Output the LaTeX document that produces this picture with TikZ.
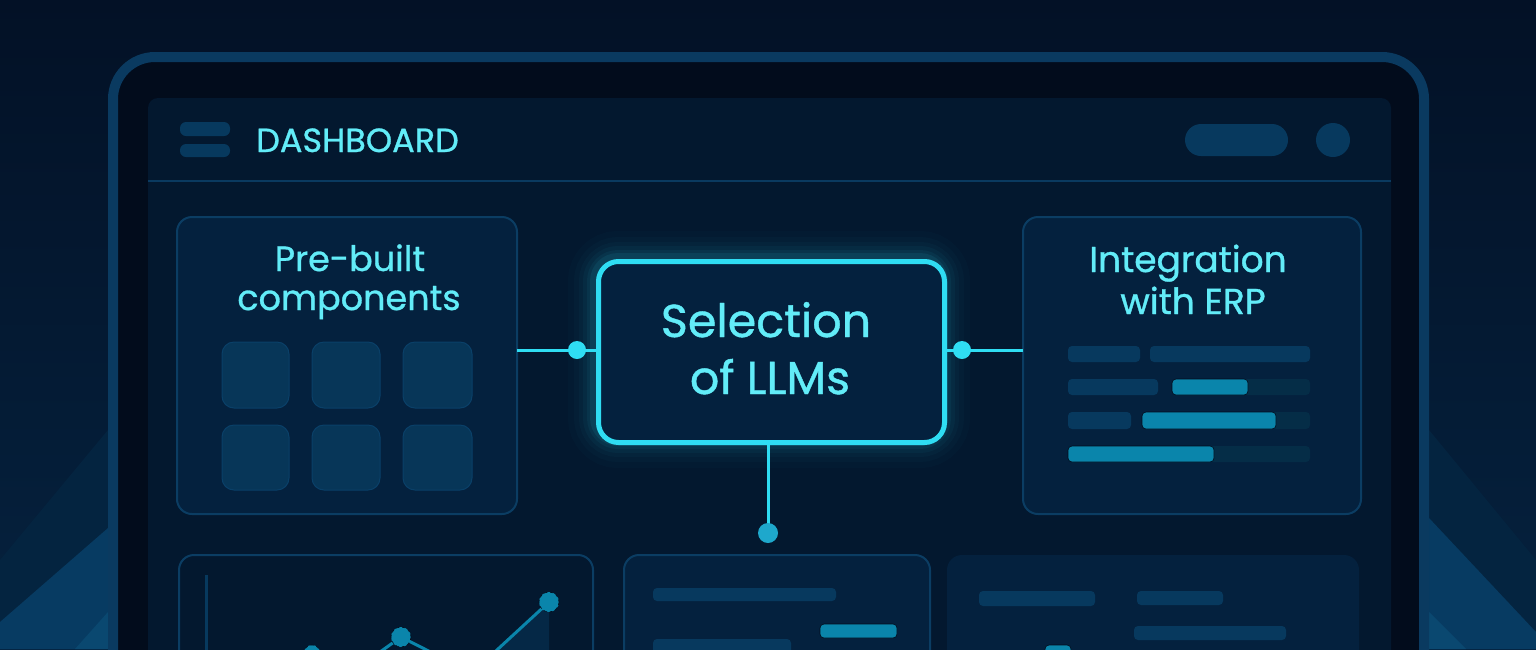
\documentclass[tikz,border=0pt]{standalone}
\usepackage{fontspec}
\setmainfont{Poppins}[FakeBold=0.9]
\usetikzlibrary{calc}
\definecolor{bgA}{HTML}{031126}
\definecolor{bgB}{HTML}{05223F}
\definecolor{frameC}{HTML}{0A3A60}
\definecolor{frameIn}{HTML}{020C1C}
\definecolor{panelC}{HTML}{03182F}
\definecolor{cardF}{HTML}{04213E}
\definecolor{cardB}{HTML}{0B3D63}
\definecolor{tileF}{HTML}{073658}
\definecolor{tileB}{HTML}{0A4068}
\definecolor{barD}{HTML}{07395E}
\definecolor{barB}{HTML}{0A85AB}
\definecolor{track}{HTML}{052D47}
\definecolor{cyanL}{HTML}{2FDDF3}
\definecolor{txtC}{HTML}{62ECF8}
\definecolor{dotB}{HTML}{1EA8CC}
\definecolor{beam1}{HTML}{042440}
\definecolor{beam2}{HTML}{073B62}
\definecolor{beam3}{HTML}{0A4870}
\tikzset{
  card/.style={draw=cardB, line width=2pt, fill=cardF, rounded corners=15pt},
  tile/.style={draw=tileB, line width=1pt, fill=tileF, rounded corners=12pt},
  bard/.style={fill=barD, rounded corners=4pt},
  barb/.style={fill=barB, draw=frameIn, line width=0.6pt, rounded corners=4pt},
  bart/.style={fill=track, rounded corners=4pt},
  title/.style={text=txtC, align=center, inner sep=0pt},
  conn/.style={draw=cyanL, line width=3pt},
  dot/.style={circle, fill=cyanL, inner sep=0pt, minimum size=18pt},
}
\begin{document}
\begin{tikzpicture}[x=1pt, y=-1pt]
\useasboundingbox (0,0) rectangle (1536,649);
\clip (0,0) rectangle (1536,649);
% background
\shade[top color=bgA, bottom color=bgB] (0,0) rectangle (1536,649);
% corner beams
\fill[beam1] (0,649) -- (0,560) -- (108,430) -- (108,649) -- cycle;
\fill[beam2] (0,649) -- (0,622) -- (108,528) -- (108,649) -- cycle;
\fill[beam3] (75,649) -- (108,612) -- (108,649) -- cycle;
\fill[beam1] (1536,649) -- (1536,560) -- (1429,430) -- (1429,649) -- cycle;
\fill[beam2] (1536,649) -- (1536,632) -- (1429,518) -- (1429,649) -- cycle;
\fill[beam3] (1466,649) -- (1429,612) -- (1429,649) -- cycle;
% laptop frame
\draw[frameC, line width=10pt, fill=frameIn, rounded corners=42pt] (113,700) -- (113,57) -- (1424,57) -- (1424,700);
% screen panel
\fill[panelC, rounded corners=10pt] (148,700) rectangle (1391,98);
\draw[frameC, line width=2.5pt] (148,181) -- (1391,181);
% header
\fill[barD, rounded corners=6pt] (180,122) rectangle (230,136);
\fill[barD, rounded corners=6pt] (180,144) rectangle (230,157);
\node[title, anchor=base west, font=\fontsize{33.5}{33.5}\selectfont] (dash) at (256,152) {DASHBOARD};
\fill[barD, rounded corners=16pt] (1185,124) rectangle (1288,156);
\fill[barD] (1333,140) circle (17);
% left card
\draw[card] (177,217) rectangle (517,514);
\node[minimum width=340pt, minimum height=297pt, anchor=north west, inner sep=0pt] (pre) at (177,217) {};
\node[title, font=\fontsize{35}{40}\selectfont, anchor=base] at (350,271) {Pre-built};
\node[title, font=\fontsize{35}{40}\selectfont, anchor=base] at (349,310) {components};
\foreach \x/\xx in {222/289,312/380,403/472}{
  \foreach \y/\yy in {342/408,425/490}{
    \draw[tile] (\x,\y) rectangle (\xx,\yy);
  }
}
% right card
\draw[card] (1023,217) rectangle (1361,514);
\node[minimum width=338pt, minimum height=297pt, anchor=north west, inner sep=0pt] (erp) at (1023,217) {};
\node[title, font=\fontsize{36}{40}\selectfont, anchor=base] at (1188,272) {Integration};
\node[title, font=\fontsize{36}{40}\selectfont, anchor=base] at (1193,314) {with ERP};
\fill[bard] (1068,346) rectangle (1140,362);
\fill[bard] (1150,346) rectangle (1310,362);
\fill[bard] (1068,379) rectangle (1158,395);
\fill[bart] (1172,379) rectangle (1310,395);
\draw[barb] (1172,379) rectangle (1248,395);
\fill[bard] (1068,412) rectangle (1131,429);
\fill[bart] (1142,412) rectangle (1310,429);
\draw[barb] (1142,412) rectangle (1276,429);
\fill[bart] (1068,446) rectangle (1310,462);
\draw[barb] (1068,446) rectangle (1214,462);
% bottom cards
\draw[cardB, line width=2pt, fill=panelC, rounded corners=15pt] (179,700) -- (179,555) -- (593,555) -- (593,700);
\draw[barD, line width=3pt] (206,575) -- (206,660);
\fill[barD, opacity=0.5] (498,649) -- (549,602) -- (549,660) -- (498,660) -- cycle;
\draw[barB, line width=3pt] (312,652) -- (352,672) -- (401,637) -- (472,673) -- (549,602);
\foreach \p/\r in {{(312,653)}/8,{(401,637)}/10,{(549,602)}/10}{
  \fill[barB] \p circle (\r);
  \draw[frameIn, line width=0.6pt, dashed] \p circle (\r);
}
\draw[cardB, line width=2pt, fill=cardF, rounded corners=15pt] (624,700) -- (624,555) -- (930,555) -- (930,700);
\fill[bard] (653,588) rectangle (836,601);
\draw[barb] (820,624) rectangle (897,638);
\fill[bard] (653,639) rectangle (791,660);
\fill[cardF, rounded corners=15pt] (947,700) rectangle (1359,555);
\fill[bard] (979,591) rectangle (1095,606);
\fill[bard] (1137,591) rectangle (1223,605);
\fill[bard] (1134,626) rectangle (1286,640);
\draw[barb] (1045,645) rectangle (1071,660);
% glow around center
\foreach \w/\o in {56/0.02,44/0.025,34/0.03,26/0.04,18/0.05,12/0.08}{
  \draw[cyanL, line width=\w pt, opacity=\o, rounded corners=22pt] (596,259) rectangle (942,440);
}
% center node
\node[draw=cyanL, line width=5pt, fill=cardF, rounded corners=20pt, minimum width=346pt, minimum height=181pt, anchor=north west, inner sep=0pt] (llm) at (596,259) {};
\node[title, font=\fontsize{46}{56}\selectfont, anchor=base] at (766,337) {Selection};
\node[title, font=\fontsize{46}{56}\selectfont, anchor=base] at (770,394) {of LLMs};
% connectors
\coordinate (bot) at (768,533);
\draw[conn] (pre.east |- 0,350) -- (llm.west |- 0,350);
\draw[conn] (llm.east |- 0,350) -- (erp.west |- 0,350);
\draw[conn] (llm.south -| bot) -- (bot);
\node[dot] (dl) at (577,350) {};
\node[dot] (dr) at (962,350) {};
\node[dot, fill=dotB, minimum size=20pt] (db) at (bot) {};
\end{tikzpicture}
\end{document}
